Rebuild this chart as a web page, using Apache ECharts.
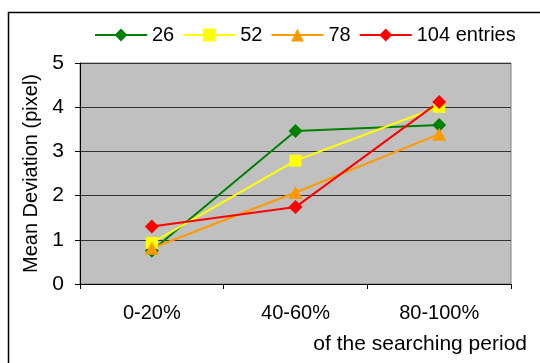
<!DOCTYPE html>
<html>
<head>
<meta charset="utf-8">
<script src="https://cdn.jsdelivr.net/npm/echarts@6/dist/echarts.min.js"></script>
<style>
  html, body { margin: 0; padding: 0; background: #fff; }
  #chart { width: 540px; height: 363px; }
</style>
</head>
<body>
<div id="chart"></div>
<script>
// 数据
const categories = ['0-20%', '40-60%', '80-100%']
const seriesNames = ['26', '52', '78', '104 entries']
const entries26 = [0.75, 3.46, 3.6]
const entries52 = [0.93, 2.79, 4.01]
const entries78 = [0.81, 2.07, 3.39]
const entries104 = [1.3, 1.74, 4.12]
const yTicks = [0, 1, 2, 3, 4, 5]

const colors = ['#008000', '#FFFF00', '#FF9900', '#FF0000']
const symbols = ['diamond', 'rect', 'triangle', 'diamond']
const sizes = [[14, 14], [12, 12], [14, 13], [14, 14]]
const values = [entries26, entries52, entries78, entries104]

const font = 'Liberation Sans, Arial, sans-serif'
const myChart = echarts.init(document.getElementById('chart'))

const option = {
  animation: false,
  textStyle: { fontFamily: font },
  grid: {
    left: 80,
    right: 29,
    top: 63,
    bottom: 79,
    show: true,
    backgroundColor: '#C0C0C0',
    borderColor: '#808080',
    borderWidth: 1
  },
  legend: {
    left: 89,
    top: 20,
    itemWidth: 52,
    itemHeight: 16,
    itemGap: 8,
    textStyle: { fontSize: 20, color: '#000', fontFamily: font },
    data: seriesNames
  },
  xAxis: {
    type: 'category',
    data: categories,
    boundaryGap: true,
    axisLine: { lineStyle: { color: '#000', width: 1 } },
    axisTick: { show: true, length: 5, lineStyle: { color: '#000' } },
    axisLabel: { fontSize: 20, color: '#000', margin: 19, fontFamily: font },
    splitLine: { show: false }
  },
  yAxis: {
    type: 'value',
    min: yTicks[0],
    max: yTicks[yTicks.length - 1],
    interval: 1,
    name: 'Mean Deviation (pixel)',
    nameLocation: 'middle',
    nameGap: 34,
    nameTextStyle: { fontSize: 20, color: '#000', fontFamily: font },
    axisLine: { show: true, lineStyle: { color: '#000' } },
    axisTick: { show: true, length: 5, lineStyle: { color: '#000' } },
    axisLabel: { fontSize: 21, color: '#000', margin: 16, fontFamily: font },
    splitLine: { show: true, lineStyle: { color: '#333', width: 1 } }
  },
  series: seriesNames.map((name, i) => ({
    name,
    type: 'line',
    data: values[i],
    symbol: symbols[i],
    symbolSize: sizes[i],
    color: colors[i],
    lineStyle: { color: colors[i], width: 2 },
    itemStyle: { color: colors[i] }
  })),
  graphic: [
    {
      type: 'rect',
      shape: { x: 8.5, y: 12.5, width: 560, height: 380 },
      style: { fill: 'none', stroke: '#000', lineWidth: 1.5 },
      z: 100
    },
    {
      type: 'text',
      right: 13,
      top: 334,
      style: { text: 'of the searching period', fontSize: 21, fill: '#000', fontFamily: font }
    }
  ]
}

myChart.setOption(option)
</script>
</body>
</html>
